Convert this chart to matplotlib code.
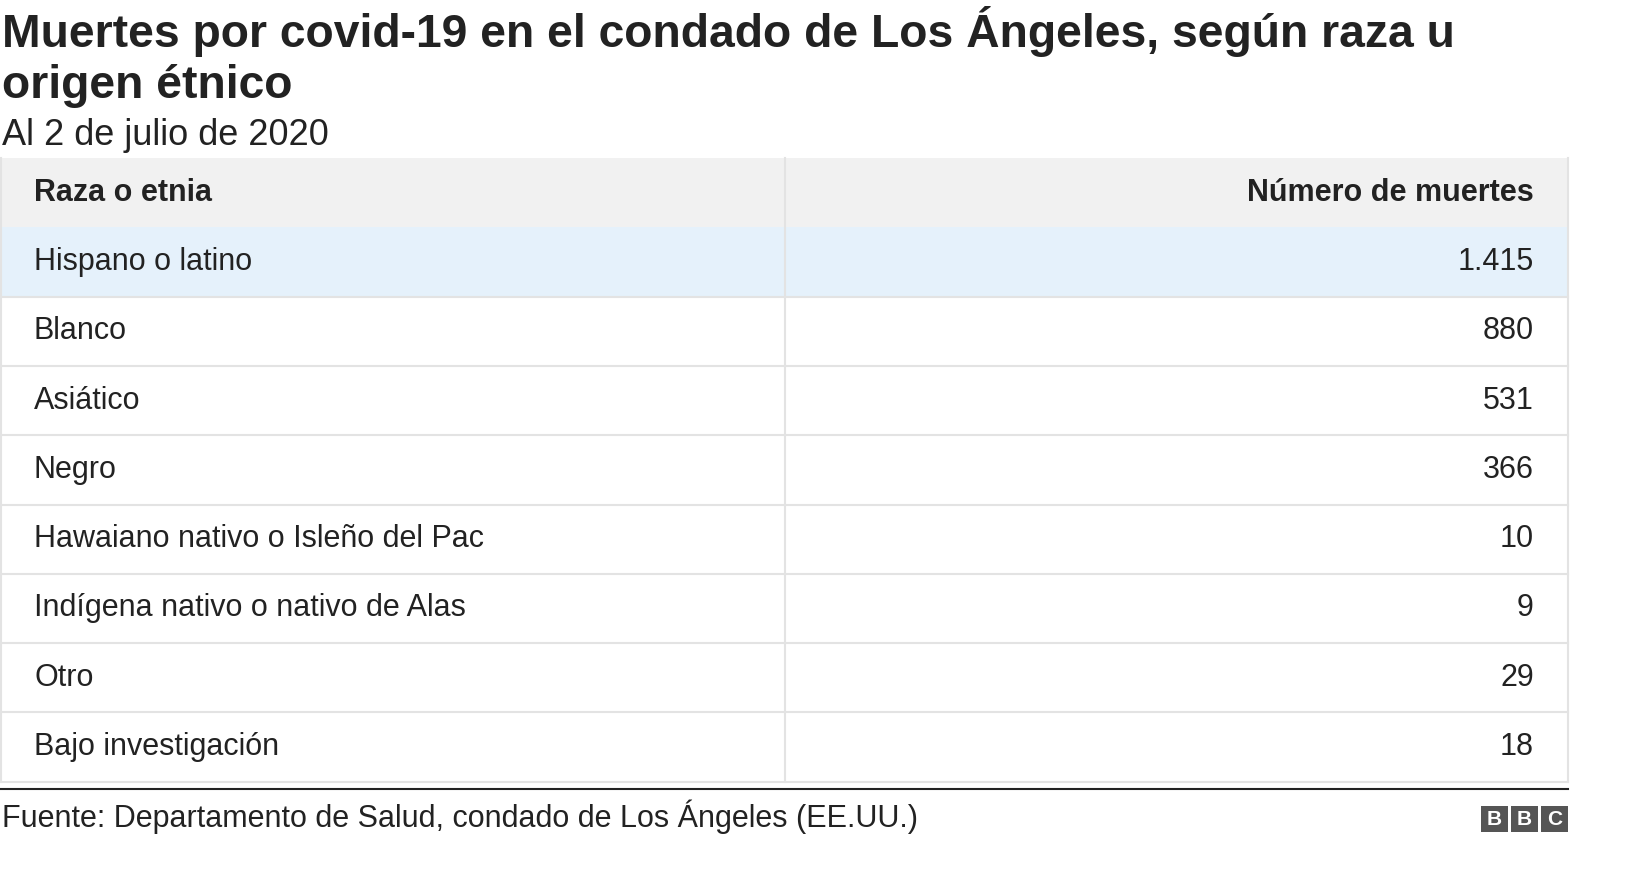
import matplotlib
matplotlib.use("Agg")
import matplotlib.pyplot as plt
from matplotlib.patches import Rectangle

plt.rcParams['font.family'] = ['Liberation Sans', 'DejaVu Sans']

title = "Muertes por covid-19 en el condado de Los Ángeles, según raza u\norigen étnico"
subtitle = "Al 2 de julio de 2020"
headers = ["Raza o etnia", "Número de muertes"]
categories = ["Hispano o latino", "Blanco", "Asiático", "Negro",
              "Hawaiano nativo o Isleño del Pac", "Indígena nativo o nativo de Alas",
              "Otro", "Bajo investigación"]
values = ["1.415", "880", "531", "366", "10", "9", "29", "18"]
source = "Fuente: Departamento de Salud, condado de Los Ángeles (EE.UU.)"

fig = plt.figure(figsize=(16.32, 8.76), dpi=100)
ax = fig.add_axes([0, 0, 1, 1])
ax.set_xlim(0, 1632); ax.set_ylim(876, 0); ax.axis('off')

ax.text(2, 6, title, fontsize=33.3, fontweight='bold', va='top', linespacing=1.22, color='#222222')
ax.text(2, 118, subtitle, fontsize=26, va='top', color='#222222')

x0, x1, xdiv = 0, 1568, 785
top, rh = 158, 69.3
ax.add_patch(Rectangle((x0, top), x1 - x0, rh + 1, color='#f1f1f1', lw=0))
ax.text(34, top + rh / 2, headers[0], fontsize=22, fontweight='bold', va='center', color='#222222')
ax.text(1534, top + rh / 2, headers[1], fontsize=22, fontweight='bold', va='center', ha='right', color='#222222')
for i, (c, v) in enumerate(zip(categories, values)):
    y = top + rh * (i + 1)
    if i == 0:
        ax.add_patch(Rectangle((x0, y), x1 - x0, rh, color='#e5f1fb', lw=0))
    ax.text(34, y + rh / 2, c, fontsize=22, va='center', color='#222222')
    ax.text(1534, y + rh / 2, v, fontsize=22, va='center', ha='right', color='#222222')
    ax.plot([x0, x1], [y + rh, y + rh], color='#e3e3e3', lw=1.5)
bottom = top + rh * (len(categories) + 1)
ax.plot([xdiv, xdiv], [top, bottom], color='#e3e3e3', lw=1.5)
ax.plot([x0 + 1, x0 + 1], [top, bottom], color='#e3e3e3', lw=1.5)
ax.plot([x1, x1], [top, bottom], color='#e3e3e3', lw=1.5)
ax.plot([0, 1568], [789, 789], color='#222222', lw=1.5)
ax.text(2, 817, source, fontsize=22, va='center', color='#222222')
for k, ch in enumerate("BBC"):
    bx = 1481 + k * 30
    ax.add_patch(Rectangle((bx, 806), 27, 26, color='#555555', lw=0))
    ax.text(bx + 13.5, 819.5, ch, fontsize=15, fontweight='bold', color='white', ha='center', va='center')

fig.savefig("out.png", dpi=100)
